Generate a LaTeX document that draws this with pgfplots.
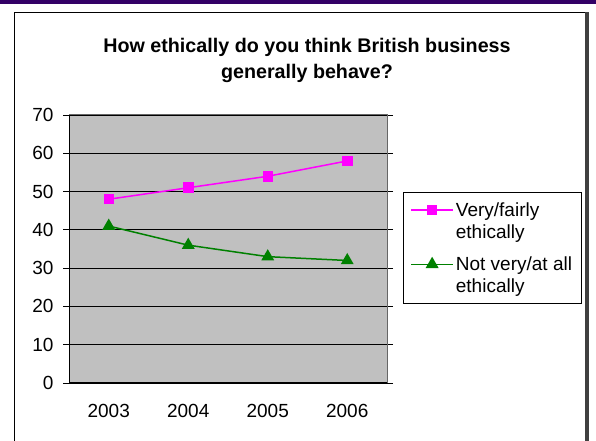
\documentclass[border=0pt]{standalone}
\usepackage{pgfplots}
\pgfplotsset{compat=1.18}
\usepackage{fontspec}
\setmainfont{Liberation Sans}
\definecolor{framepurple}{RGB}{51,0,102}
\definecolor{plotgray}{RGB}{192,192,192}
\definecolor{vpink}{RGB}{255,0,255}
\definecolor{ngreen}{RGB}{0,128,0}

\begin{document}
\begin{tikzpicture}
\useasboundingbox (0,0) rectangle (596bp,441bp);
% page frame (pixel coordinates, y downwards)
\begin{scope}[x=1bp,y=-1bp,yshift=441bp]
  \fill[framepurple] (0,0) rectangle (596,4);
  \draw[black,line width=1bp] (14.5,441) -- (14.5,12.5) -- (585,12.5);
  \fill[black!75] (585,12) rectangle (589,441);
  \node[font=\bfseries\fontsize{19.7bp}{25.5bp}\selectfont,align=center] at (307,60.5)
    {How ethically do you think British business\\generally behave?};
\end{scope}
\begin{axis}[
  at={(69bp,58bp)}, anchor=south west,
  scale only axis, width=318bp, height=268bp,
  xmin=0.5, xmax=4.5, ymin=0, ymax=70,
  xtick={1,2,3,4}, xticklabels={2003,2004,2005,2006},
  x tick style={draw=none},
  minor xtick={0.5,1.5,2.5,3.5,4.5},
  ytick={0,10,...,70},
  tick align=outside, major tick length=6bp, minor tick length=6bp,
  tick style={black, line width=0.8bp},
  ymajorgrids, grid style={black, line width=0.8bp},
  axis background/.style={fill=plotgray},
  axis line style={draw=black!60, line width=1bp},
  tick label style={font=\fontsize{19bp}{22bp}\selectfont},
  /pgf/number format/assume math mode=true,
  yticklabel style={xshift=-6bp},
  xticklabel style={yshift=-12bp},
  legend style={at={(1.0503,0.7127)}, anchor=north west, draw=black, line width=0.8bp,
    font=\fontsize{19bp}{22bp}\selectfont, nodes={align=left}, column sep=0bp,
    inner xsep=7bp, inner ysep=8bp, row sep=13bp},
  legend cell align=left,
  legend image code/.code={\draw[mark repeat=2,mark phase=2,#1] plot coordinates {(0bp,11bp) (21bp,11bp) (42bp,11bp)};},
]
\addplot[vpink, line width=1.5bp, mark=square*, mark size=4.5bp] coordinates {(1,48) (2,51) (3,54) (4,58)};
\addlegendentry{Very/fairly\\ethically}
\addplot[ngreen, line width=1.5bp, mark=triangle*, mark size=6bp] coordinates {(1,41) (2,36) (3,33) (4,32)};
\addlegendentry{Not very/at all\\ethically}
\draw[black, line width=1bp] (rel axis cs:0,1) -- (rel axis cs:0,0) -- (rel axis cs:1,0);
\end{axis}
\end{tikzpicture}
\end{document}
